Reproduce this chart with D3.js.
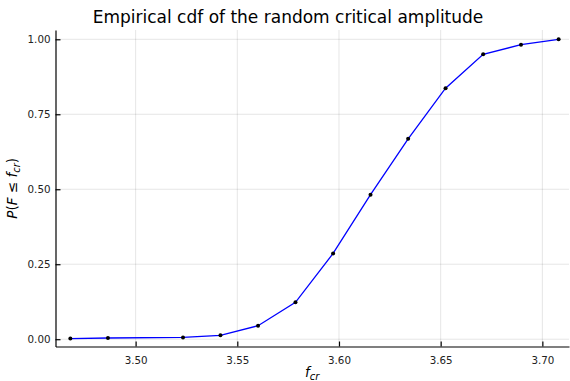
<!DOCTYPE html>
<html>
<head>
<meta charset="utf-8">
<script src="https://cdn.jsdelivr.net/npm/d3@7"></script>
<style>
  body { margin: 0; background: #fff; }
  svg { display: block; font-family: "DejaVu Sans", sans-serif; }
</style>
</head>
<body>
<svg class="cdf_svg" width="570" height="381"></svg>
<script>
// values
var fcr = [3.4679, 3.4864, 3.5233, 3.5417, 3.5602, 3.5786, 3.5971, 3.6155, 3.6340, 3.6524, 3.6709, 3.6895, 3.7080];
var prob = [0.002, 0.004, 0.006, 0.013, 0.045, 0.123, 0.286, 0.482, 0.668, 0.837, 0.950, 0.982, 1.000];
var xTicks = [3.50, 3.55, 3.60, 3.65, 3.70];
var yTicks = [0.00, 0.25, 0.50, 0.75, 1.00];

var svg = d3.select(".cdf_svg"),
    pLeft = 55.5,
    pRight = 569,
    pTop = 30,
    pBottom = 346.5;

var x = d3.scaleLinear().domain([3.4606, 3.7131]).range([pLeft, pRight]);
var y = d3.scaleLinear().domain([-0.0243, 1.031]).range([pBottom, pTop]);

// grid
svg.append("g").selectAll("line").data(xTicks).enter().append("line")
    .attr("x1", d => x(d)).attr("x2", d => x(d))
    .attr("y1", pTop).attr("y2", pBottom)
    .attr("stroke", "#000").attr("stroke-opacity", 0.1).attr("stroke-width", 1);
svg.append("g").selectAll("line").data(yTicks).enter().append("line")
    .attr("x1", pLeft).attr("x2", pRight)
    .attr("y1", d => y(d)).attr("y2", d => y(d))
    .attr("stroke", "#000").attr("stroke-opacity", 0.1).attr("stroke-width", 1);

// axes (ticks pointing inward)
var xAxis = svg.append("g")
    .attr("transform", "translate(0," + pBottom + ")")
    .call(d3.axisBottom(x).tickValues(xTicks).tickFormat(d3.format(".2f")).tickSizeInner(-5).tickSizeOuter(0).tickPadding(10));
var yAxis = svg.append("g")
    .attr("transform", "translate(" + pLeft + ",0)")
    .call(d3.axisLeft(y).tickValues(yTicks).tickFormat(d3.format(".2f")).tickSizeInner(-5).tickSizeOuter(0).tickPadding(10));

[xAxis, yAxis].forEach(function (a) {
    a.select(".domain").attr("stroke", "#000").attr("stroke-width", 1.2);
    a.selectAll(".tick line").attr("stroke", "#000").attr("stroke-width", 1.2);
    a.selectAll(".tick text").attr("fill", "#222").style("font-size", "10.3px")
        .style("font-family", "DejaVu Sans, sans-serif");
});
yAxis.selectAll(".tick text").attr("x", -5);

// curve
var line = d3.line().x((d, i) => x(fcr[i])).y(d => y(d));
svg.append("path")
    .datum(prob)
    .attr("d", line)
    .attr("fill", "none")
    .attr("stroke", "#0000ff")
    .attr("stroke-width", 1.3);

svg.append("g").selectAll("circle").data(prob).enter().append("circle")
    .attr("cx", (d, i) => x(fcr[i]))
    .attr("cy", d => y(d))
    .attr("r", 2)
    .attr("fill", "#000");

// title and labels
svg.append("text")
    .text("Empirical cdf of the random critical amplitude")
    .attr("x", 288)
    .attr("y", 22.5)
    .attr("text-anchor", "middle")
    .style("font-size", "17px")
    .style("fill", "#000");

var xl = svg.append("text")
    .attr("x", (pLeft + pRight) / 2)
    .attr("y", 377)
    .attr("text-anchor", "middle")
    .style("font-size", "13.5px")
    .style("font-style", "italic");
xl.append("tspan").text("f");
xl.append("tspan").text("cr").attr("dy", 3).style("font-size", "10px");

var yl = svg.append("text")
    .attr("transform", "translate(17," + ((pTop + pBottom) / 2) + ") rotate(-90)")
    .attr("text-anchor", "middle")
    .style("font-size", "13.5px");
yl.append("tspan").text("P").style("font-style", "italic");
yl.append("tspan").text("(");
yl.append("tspan").text("F").style("font-style", "italic");
yl.append("tspan").text(" ≤ ");
yl.append("tspan").text("f").style("font-style", "italic");
yl.append("tspan").text("cr").attr("dy", 3).style("font-size", "10px").style("font-style", "italic");
yl.append("tspan").text(")").attr("dy", -3);
</script>
</body>
</html>
